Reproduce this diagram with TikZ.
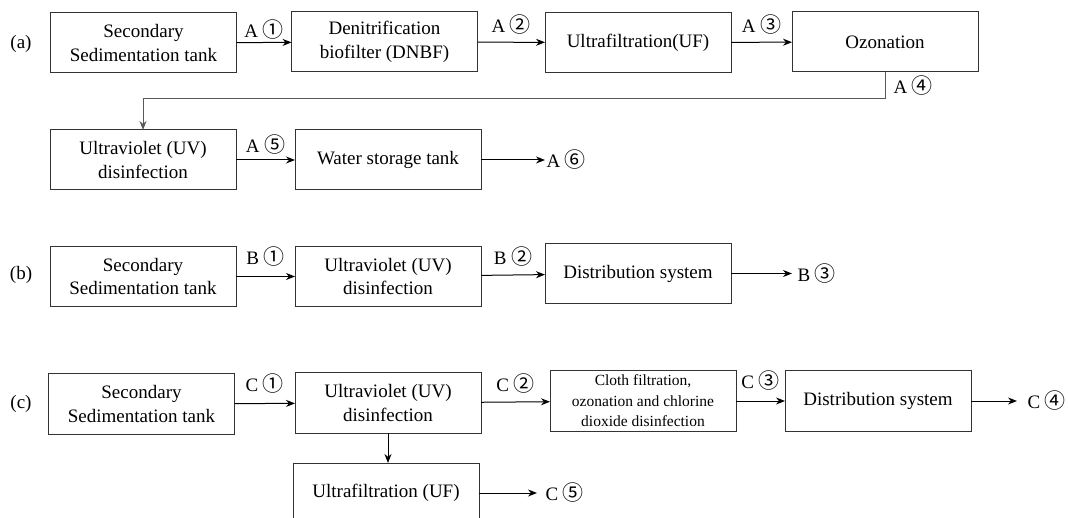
\documentclass[tikz,border=0pt]{standalone}
\usepackage{fontspec}
\setmainfont{Liberation Serif}
\newfontfamily\circfont{Noto Sans CJK SC}
\newcommand\cnum[1]{{\circfont\fontsize{21}{21}\selectfont #1}}
\usetikzlibrary{arrows.meta}

\begin{document}
\begin{tikzpicture}[
    x=1pt, y=-1pt,
    every node/.style={
        font=\fontsize{19}{23.4}\selectfont
    },
    unit/.style={
        draw=black!80,
        line width=1pt,
        minimum width=186pt,
        minimum height=60pt,
        inner sep=2pt,
        outer sep=0pt,
        align=center,
        font=\fontsize{19}{23.4}\selectfont\rmfamily
    },
    flow/.style={-{Stealth[length=9pt,width=7pt]}, line width=1pt},
    lbl/.style={yshift=18pt, inner sep=0pt}
]

\useasboundingbox (0,0) rectangle (1068,518);
\clip (0,0) rectangle (1068,518);

% (a) 공정
\node (tagA) at (21,44) {(a)};
\node[unit] (a1) at (143.5,43) {Secondary\\Sedimentation tank};
\node[unit] (a2) at (384.5,42) {Denitrification\\biofilter (DNBF)};
\node[unit] (a3) at (638,42.5) {Ultrafiltration(UF)};
\node[unit] (a4) at (885,42) {Ozonation};
\node[unit] (a5) at (143,160) {Ultraviolet (UV)\\disinfection};
\node[unit] (a6) at (388,160) {Water storage tank};
\coordinate (bendA) at (0,99);
\coordinate (outA) at (545,160);

\draw[flow] (a1) -- node[lbl, yshift=-5pt] {A \cnum{①}} (a2);
\draw[flow] (a2) -- node[lbl] {A \cnum{②}} (a3);
\draw[flow] (a3) -- node[lbl] {A \cnum{③}} (a4);
\draw[flow, draw=black!65] (a4.south)
    -- node[anchor=west, inner sep=0pt, xshift=8pt] {A \cnum{④}} (a4.south |- bendA)
    -| (a5.north);
\draw[flow] (a5) -- node[lbl, yshift=-3pt] {A \cnum{⑤}} (a6);
\draw[flow] (a6) -- (outA) node[anchor=west, inner sep=1pt] {A \cnum{⑥}};

% (b) 공정
\node (tagB) at (21,275) {(b)};
\node[unit] (b1) at (143,276.5) {Secondary\\Sedimentation tank};
\node[unit] (b2) at (388,276.5) {Ultraviolet (UV)\\disinfection};
\node[unit] (b3) at (638,273.5) {Distribution system};
\coordinate (outB) at (792,273.5);

\draw[flow] (b1) -- node[lbl, yshift=2pt] {B \cnum{①}} (b2);
\draw[flow] (b2) -- node[lbl] {B \cnum{②}} (b3);
\draw[flow] (b3) -- (outB) node[anchor=west, inner sep=5pt] {B \cnum{③}};

% (c) 공정
\node (tagC) at (21,404) {(c)};
\node[unit] (c1) at (141.5,404) {Secondary\\Sedimentation tank};
\node[unit] (c2) at (388,403) {Ultraviolet (UV)\\disinfection};
\node[unit, font=\fontsize{15.5}{20.6}\selectfont] (c3) at (643,401)
    {Cloth filtration,\\ozonation and chlorine\\dioxide disinfection};
\node[unit] (c4) at (878,401) {Distribution system};
\node[unit] (c5) at (386,493) {Ultrafiltration (UF)};
\coordinate (outC4) at (1017,401);
\coordinate (outC5) at (537,493);

\draw[flow] (c1) -- node[lbl, yshift=2pt] {C \cnum{①}} (c2);
\draw[flow] (c2) -- node[lbl] {C \cnum{②}} (c3);
\draw[flow] (c3) -- node[lbl, yshift=2pt] {C \cnum{③}} (c4);
\draw[flow] (c4) -- (outC4) node[anchor=west, inner sep=10pt] {C \cnum{④}};
\draw[flow] (c2.south) -- (c2.south |- c5.north);
\draw[flow] (c5) -- (outC5) node[anchor=west, inner sep=8pt] {C \cnum{⑤}};

\end{tikzpicture}
\end{document}
